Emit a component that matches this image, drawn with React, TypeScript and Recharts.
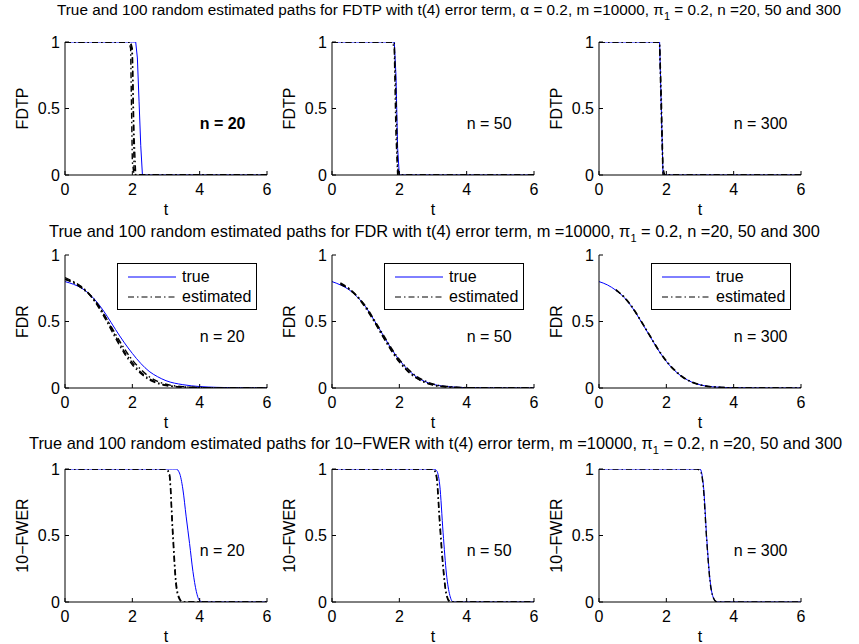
import React from "react";
import { LineChart, Line, XAxis, YAxis, Legend, ReferenceDot } from "recharts";

// ---- FDTP row ----
const tFdtp = [0, 1.7, 1.75, 1.8, 1.85, 1.9, 1.95, 2.0, 2.05, 2.1, 2.15, 2.2, 2.25, 2.3, 2.35, 6];
const fdtpTrue20 = [1, 1, 1, 1, 1, 1, 1, 1, 1, 1, 0.88, 0.55, 0.22, 0, 0, 0];
const fdtpEst20a = [1, 1, 1, 1, 1, 1, 1, 0.95, 0.05, 0, 0, 0, 0, 0, 0, 0];
const fdtpEst20b = [1, 1, 1, 1, 1, 1, 0.95, 0.1, 0, 0, 0, 0, 0, 0, 0, 0];
const fdtpEst20c = [1, 1, 1, 1, 1, 1, 1, 0.9, 0.3, 0, 0, 0, 0, 0, 0, 0];
const fdtpTrue50 = [1, 1, 1, 1, 1, 0.75, 0.2, 0, 0, 0, 0, 0, 0, 0, 0, 0];
const fdtpEst50a = [1, 1, 1, 1, 1, 0.6, 0.05, 0, 0, 0, 0, 0, 0, 0, 0, 0];
const fdtpEst50b = [1, 1, 1, 1, 0.95, 0.3, 0, 0, 0, 0, 0, 0, 0, 0, 0, 0];
const fdtpTrue300 = [1, 1, 1, 1, 0.5, 0.02, 0, 0, 0, 0, 0, 0, 0, 0, 0, 0];
const fdtpEst300a = [1, 1, 1, 0.98, 0.45, 0, 0, 0, 0, 0, 0, 0, 0, 0, 0, 0];
const fdtpEst300b = [1, 1, 1, 1, 0.6, 0.05, 0, 0, 0, 0, 0, 0, 0, 0, 0, 0];

// ---- FDR row ----
const tFdr = [0, 0.25, 0.5, 0.75, 1, 1.25, 1.5, 1.75, 2, 2.25, 2.5, 2.75, 3, 3.5, 4, 4.5, 5, 5.5, 6];
const fdrTrue20 = [0.8, 0.78, 0.75, 0.7, 0.63, 0.54, 0.44, 0.345, 0.26, 0.185, 0.125, 0.085, 0.055, 0.025, 0.011, 0.005, 0.002, 0.001, 0];
const fdrEst20a = [0.83, 0.8, 0.76, 0.7, 0.62, 0.51, 0.39, 0.28, 0.19, 0.12, 0.07, 0.04, 0.022, 0.008, 0.003, 0.001, 0, 0, 0];
const fdrEst20b = [0.82, 0.795, 0.755, 0.695, 0.605, 0.495, 0.375, 0.265, 0.175, 0.11, 0.062, 0.034, 0.018, 0.006, 0.002, 0.001, 0, 0, 0];
const fdrEst20c = [0.815, 0.79, 0.75, 0.695, 0.615, 0.515, 0.405, 0.3, 0.21, 0.14, 0.085, 0.05, 0.028, 0.01, 0.004, 0.0015, 0, 0, 0];
const fdrTrue50 = [0.8, 0.775, 0.74, 0.685, 0.61, 0.51, 0.405, 0.3, 0.21, 0.14, 0.085, 0.05, 0.028, 0.009, 0.003, 0.001, 0, 0, 0];
const fdrEst50a = [null, 0.79, 0.75, 0.69, 0.61, 0.505, 0.395, 0.29, 0.2, 0.13, 0.078, 0.044, 0.024, 0.007, 0.002, 0.0005, 0, 0, 0];
const fdrEst50b = [null, 0.78, 0.745, 0.69, 0.615, 0.515, 0.41, 0.305, 0.215, 0.145, 0.09, 0.055, 0.03, 0.01, 0.003, 0.001, 0, 0, 0];
const fdrEst50c = [null, 0.785, 0.745, 0.685, 0.6, 0.5, 0.39, 0.285, 0.195, 0.125, 0.075, 0.042, 0.022, 0.006, 0.002, 0, 0, 0, 0];
const fdrTrue300 = [0.8, 0.775, 0.735, 0.68, 0.6, 0.5, 0.395, 0.29, 0.2, 0.13, 0.08, 0.045, 0.024, 0.007, 0.002, 0.0005, 0, 0, 0];
const fdrEst300a = [null, null, 0.74, 0.68, 0.6, 0.5, 0.395, 0.29, 0.2, 0.13, 0.078, 0.044, 0.023, 0.006, 0.002, 0, 0, 0, 0];
const fdrEst300b = [null, null, 0.735, 0.685, 0.605, 0.505, 0.4, 0.295, 0.205, 0.135, 0.082, 0.047, 0.025, 0.007, 0.002, 0.0005, 0, 0, 0];

// ---- 10-FWER row ----
const tFwer = [0, 2.9, 3.0, 3.1, 3.2, 3.3, 3.4, 3.5, 3.6, 3.7, 3.8, 3.9, 4.0, 4.1, 6];
const fwerTrue20 = [1, 1, 1, 1, 1, 1, 0.97, 0.85, 0.64, 0.44, 0.23, 0.08, 0.01, 0, 0];
const fwerEst20a = [1, 1, 1, 0.97, 0.55, 0.15, 0.03, 0, 0, 0, 0, 0, 0, 0, 0];
const fwerEst20b = [1, 1, 1, 0.95, 0.5, 0.12, 0.02, 0, 0, 0, 0, 0, 0, 0, 0];
const fwerTrue50 = [1, 1, 1, 0.99, 0.88, 0.52, 0.21, 0.05, 0, 0, 0, 0, 0, 0, 0];
const fwerEst50a = [1, 1, 1, 0.96, 0.62, 0.28, 0.06, 0.005, 0, 0, 0, 0, 0, 0, 0];
const fwerEst50b = [1, 1, 1, 0.94, 0.58, 0.25, 0.05, 0, 0, 0, 0, 0, 0, 0, 0];
const fwerTrue300 = [1, 1, 1, 0.88, 0.48, 0.16, 0.03, 0, 0, 0, 0, 0, 0, 0, 0];
const fwerEst300a = [1, 1, 0.99, 0.86, 0.46, 0.15, 0.03, 0, 0, 0, 0, 0, 0, 0, 0];

const xTicks = [0, 2, 4, 6];
const yTicks = [0, 0.5, 1];
const sampleSizes = [20, 50, 300];
const yLabels = ["FDTP", "FDR", "10\u2212FWER"];
const legendNames = ["true", "estimated"];

const FONT = "'Liberation Sans', Arial, Helvetica, sans-serif";
const COL_X = [65, 332, 599];
const ROW_Y = [42, 255, 469];
const PLOT_W = 202;
const PLOT_H = 133;
const Y_W = 60;
const TOP = 10;
const RIGHT = 6;
const X_H = 45;

type Panel = {
  row: number;
  col: number;
  t: number[];
  truth: (number | null)[];
  est: (number | null)[][];
  curve: "linear" | "monotone";
  bold?: boolean;
};

const panels: Panel[] = [
  { row: 0, col: 0, t: tFdtp, truth: fdtpTrue20, est: [fdtpEst20a, fdtpEst20b, fdtpEst20c], curve: "linear", bold: true },
  { row: 0, col: 1, t: tFdtp, truth: fdtpTrue50, est: [fdtpEst50a, fdtpEst50b], curve: "linear" },
  { row: 0, col: 2, t: tFdtp, truth: fdtpTrue300, est: [fdtpEst300a, fdtpEst300b], curve: "linear" },
  { row: 1, col: 0, t: tFdr, truth: fdrTrue20, est: [fdrEst20a, fdrEst20b, fdrEst20c], curve: "monotone" },
  { row: 1, col: 1, t: tFdr, truth: fdrTrue50, est: [fdrEst50a, fdrEst50b, fdrEst50c], curve: "monotone" },
  { row: 1, col: 2, t: tFdr, truth: fdrTrue300, est: [fdrEst300a, fdrEst300b], curve: "monotone" },
  { row: 2, col: 0, t: tFwer, truth: fwerTrue20, est: [fwerEst20a, fwerEst20b], curve: "monotone" },
  { row: 2, col: 1, t: tFwer, truth: fwerTrue50, est: [fwerEst50a, fwerEst50b], curve: "monotone" },
  { row: 2, col: 2, t: tFwer, truth: fwerTrue300, est: [fwerEst300a], curve: "monotone" },
];

const DASHDOT = "6 3 1.5 3";

function FdrLegend({ payload }: any) {
  const present = new Set((payload || []).map((p: any) => p.value));
  const items = legendNames.filter((name) => present.has(name));
  return (
    <div
      style={{
        width: 140,
        height: 47,
        border: "1px solid #000",
        boxSizing: "border-box",
        background: "#fff",
        paddingTop: 3,
        fontFamily: FONT,
        fontSize: 16,
        color: "#000",
      }}
    >
      {items.map((name) => (
        <div key={name} style={{ display: "flex", alignItems: "center", height: 20 }}>
          <svg width={58} height={20} style={{ display: "block" }}>
            <line
              x1={10}
              x2={58}
              y1={10}
              y2={10}
              stroke={name === "true" ? "#0000ff" : "#000"}
              strokeWidth={1}
              strokeDasharray={name === "true" ? undefined : DASHDOT}
            />
          </svg>
          <span style={{ marginLeft: 6, lineHeight: "20px" }}>{name}</span>
        </div>
      ))}
    </div>
  );
}

function PanelChart({ p }: { p: Panel }) {
  const data = p.t.map((tv, i) => {
    const r: any = { t: tv, truth: p.truth[i] };
    p.est.forEach((e, j) => {
      r["est" + j] = e[i];
    });
    return r;
  });
  const n = sampleSizes[p.col];
  return (
    <div style={{ position: "absolute", left: COL_X[p.col] - Y_W, top: ROW_Y[p.row] - TOP }}>
      <LineChart
        width={Y_W + PLOT_W + RIGHT}
        height={TOP + PLOT_H + X_H}
        data={data}
        margin={{ top: TOP, right: RIGHT, bottom: 0, left: 0 }}
      >
        <XAxis
          dataKey="t"
          type="number"
          domain={[0, 6]}
          ticks={xTicks}
          allowDataOverflow
          height={X_H}
          stroke="#000"
          tickSize={-4}
          tickMargin={13}
          tick={{ fontSize: 16, fill: "#000" }}
          label={{ value: "t", position: "insideBottom", offset: 5, fontSize: 16, fill: "#000" }}
        />
        <XAxis
          xAxisId="top"
          orientation="top"
          type="number"
          domain={[0, 6]}
          ticks={xTicks}
          allowDataOverflow
          height={0}
          stroke="#000"
          tickSize={-4}
          tick={false}
        />
        <YAxis
          type="number"
          domain={[0, 1]}
          ticks={yTicks}
          allowDataOverflow
          width={Y_W}
          stroke="#000"
          tickSize={-4}
          tickMargin={9}
          tick={{ fontSize: 16, fill: "#000" }}
          label={{
            value: yLabels[p.row],
            angle: -90,
            position: "insideLeft",
            offset: 17,
            fontSize: 16,
            fill: "#000",
            style: { textAnchor: "middle" },
          }}
        />
        <YAxis
          yAxisId="right"
          orientation="right"
          type="number"
          domain={[0, 1]}
          ticks={yTicks}
          allowDataOverflow
          width={0}
          stroke="#000"
          tickSize={-4}
          tick={false}
        />
        <Line
          type={p.curve}
          dataKey="truth"
          name="true"
          stroke="#0000ff"
          strokeWidth={1}
          dot={false}
          isAnimationActive={false}
        />
        {p.est.map((_, j) => (
          <Line
            key={j}
            type={p.curve}
            dataKey={"est" + j}
            name="estimated"
            legendType={j === 0 ? "line" : "none"}
            stroke="#000"
            strokeWidth={1.4}
            strokeDasharray={DASHDOT}
            dot={false}
            isAnimationActive={false}
          />
        ))}
        <ReferenceDot
          x={4}
          y={0.39}
          r={0}
          stroke="none"
          fill="none"
          label={{
            value: `n = ${n}`,
            position: "right",
            offset: 0,
            fontSize: 16,
            fill: "#000",
            fontWeight: p.bold ? "bold" : "normal",
          }}
        />
        {p.row === 1 && (
          <Legend
            layout="horizontal"
            align="center"
            verticalAlign="middle"
            wrapperStyle={{ left: Y_W + 52, top: TOP + 8, width: 140, height: 47 }}
            content={(props: any) => <FdrLegend payload={props.payload} />}
          />
        )}
      </LineChart>
    </div>
  );
}

const titles = [
  { x: 57, y: 15, size: 15.3, pre: "True and 100 random estimated paths for FDTP with t(4) error term, \u03b1 = 0.2, m =10000, \u03c0" },
  { x: 49, y: 237, size: 16.4, pre: "True and 100 random estimated paths for FDR with t(4) error term, m =10000, \u03c0" },
  { x: 29, y: 449, size: 16.4, pre: "True and 100 random estimated paths for 10\u2212FWER with t(4) error term, m =10000, \u03c0" },
];

export default function App() {
  return (
    <div
      style={{
        position: "absolute",
        left: 0,
        top: 0,
        width: 859,
        height: 644,
        background: "#fff",
        fontFamily: FONT,
        overflow: "hidden",
      }}
    >
      <svg width={859} height={644} style={{ position: "absolute", left: 0, top: 0 }}>
        {titles.map((tt, i) => (
          <text key={i} x={tt.x} y={tt.y} fontSize={tt.size} fill="#000" fontFamily={FONT}>
            <tspan>{tt.pre}</tspan>
            <tspan dy={5} fontSize={11}>1</tspan>
            <tspan dy={-5}>{" = 0.2, n =20, 50 and 300"}</tspan>
          </text>
        ))}
      </svg>
      {panels.map((p, i) => (
        <PanelChart key={i} p={p} />
      ))}
    </div>
  );
}
